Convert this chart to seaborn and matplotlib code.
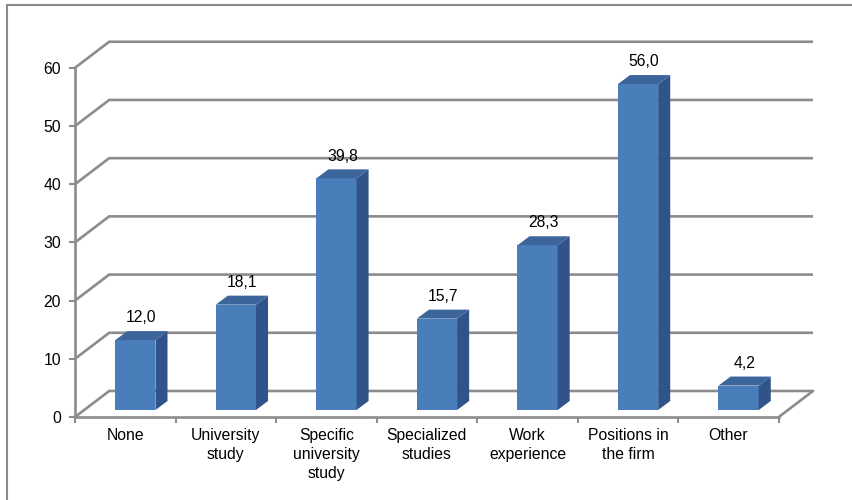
import matplotlib
matplotlib.use('Agg')
import matplotlib.pyplot as plt
from matplotlib.patches import Polygon
from matplotlib.lines import Line2D
import seaborn as sns

# Daten
categories = ['None', 'University\nstudy', 'Specific\nuniversity\nstudy', 'Specialized\nstudies',
              'Work\nexperience', 'Positions in\nthe firm', 'Other']
values = [12.0, 18.1, 39.8, 15.7, 28.3, 56.0, 4.2]
value_labels = ['12,0', '18,1', '39,8', '15,7', '28,3', '56,0', '4,2']
y_ticks = [0, 10, 20, 30, 40, 50, 60]

sns.set_theme(style='white')
plt.rcParams['font.family'] = ['Liberation Sans', 'DejaVu Sans']

grid_col = '#8c8c8c'
front_col = '#4a7ebb'
side_col = '#30548a'
top_col = '#3c659b'
fs = 11.3

# Tiefe der "3D"-Wand (Datenkoordinaten)
wall_dx, wall_dy = 0.34, 4.47
# Lage und Tiefe der Balken
bar_ox, bar_oy = 0.10, 1.2
bar_dx, bar_dy = 0.12, 1.55

fig = plt.figure(figsize=(8.52, 5.0), dpi=100)
ax = fig.add_axes([75 / 852, 83 / 500, (813 - 75) / 852, (459 - 83) / 500])

n = len(categories)
x_left, x_right = -0.5, n - 0.5

# Rückwand + Gitterlinien
for v in y_ticks:
    ax.plot([x_left, x_left + wall_dx, x_right + wall_dx], [v, v + wall_dy, v + wall_dy],
            color=grid_col, lw=1.9, zorder=1, clip_on=False, solid_capstyle='butt')
# Boden rechts
ax.plot([x_right, x_right + wall_dx], [0, wall_dy], color=grid_col, lw=1.9, zorder=1, clip_on=False)

sns.barplot(x=categories, y=values, width=0.4, color=front_col, saturation=1, ax=ax, zorder=3)

for i, p in enumerate(ax.patches):
    h = values[i]
    p.set_x(p.get_x() + bar_ox)
    p.set_y(bar_oy)
    p.set_edgecolor('none')
    x0 = p.get_x()
    x1 = x0 + p.get_width()
    y0 = bar_oy
    side = Polygon([(x1, y0), (x1 + bar_dx, y0 + bar_dy), (x1 + bar_dx, y0 + h + bar_dy), (x1, y0 + h)],
                   closed=True, facecolor=side_col, edgecolor='none', zorder=3)
    top = Polygon([(x0, y0 + h), (x1, y0 + h), (x1 + bar_dx, y0 + h + bar_dy), (x0 + bar_dx, y0 + h + bar_dy)],
                  closed=True, facecolor=top_col, edgecolor='none', zorder=3)
    ax.add_patch(side)
    ax.add_patch(top)
    ax.text((x0 + x1) / 2 + bar_dx / 2, y0 + h + bar_dy + 1.0, value_labels[i],
            ha='center', va='bottom', fontsize=fs, color='black')

ax.set_xlim(x_left, x_right + wall_dx)
ax.set_ylim(0, 64.6)
ax.set_yticks(y_ticks)
ax.set_yticklabels([str(v) for v in y_ticks])
ax.set_xticks(list(range(n)))
ax.set_xticklabels(categories, linespacing=1.32)
ax.set_xticks([x_left + k for k in range(n + 1)], minor=True)
ax.set_xlabel('')
ax.set_ylabel('')

for s in ['top', 'right']:
    ax.spines[s].set_visible(False)
ax.spines['left'].set_bounds(0, 60)
ax.spines['bottom'].set_bounds(x_left, x_right)
for s in ['left', 'bottom']:
    ax.spines[s].set_color(grid_col)
    ax.spines[s].set_linewidth(1.9)
    ax.spines[s].set_zorder(2)

ax.tick_params(axis='y', which='major', left=True, length=4, width=1.5, color=grid_col,
               pad=6, labelsize=fs, labelcolor='black')
ax.tick_params(axis='x', which='major', bottom=False, length=0, pad=8, labelsize=fs, labelcolor='black')
ax.tick_params(axis='x', which='minor', bottom=True, length=4, width=1.5, color=grid_col)

# Rahmen
fig.add_artist(Line2D([7 / 852, 7 / 852], [0, 495 / 500], color='#8a8a8a', lw=1.5))
fig.add_artist(Line2D([7 / 852, 1], [495 / 500, 495 / 500], color='#8a8a8a', lw=1.5))

fig.savefig('out.png', dpi=100)
